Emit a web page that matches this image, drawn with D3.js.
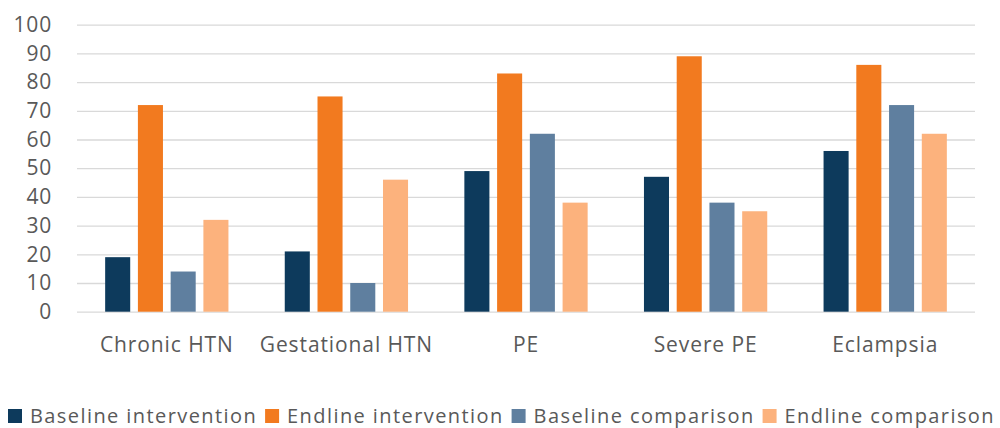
<!DOCTYPE html>
<html>
<head>
<meta charset="utf-8">
<script src="https://cdn.jsdelivr.net/npm/d3@7"></script>
<style>
  html, body { margin: 0; padding: 0; background: #fff; }
  svg { display: block; }
  text { font-family: "Open Sans", "Noto Sans", sans-serif; }
</style>
</head>
<body>
<svg id="chart" width="1000" height="428"></svg>
<script>
const categories = ["Chronic HTN", "Gestational HTN", "PE", "Severe PE", "Eclampsia"];
const seriesNames = ["Baseline intervention", "Endline intervention", "Baseline comparison", "Endline comparison"];
const baselineIntervention = [19, 21, 49, 47, 56];
const endlineIntervention = [72, 75, 83, 89, 86];
const baselineComparison = [14, 10, 62, 38, 72];
const endlineComparison = [32, 46, 38, 35, 62];
const yTicks = [0, 10, 20, 30, 40, 50, 60, 70, 80, 90, 100];
const colors = ["#0d3a5c", "#f27a1f", "#5f7f9f", "#fcb27d"];

const seriesValues = [baselineIntervention, endlineIntervention, baselineComparison, endlineComparison];

const svg = d3.select("#chart");
const plotLeft = 77, plotRight = 975, plotTop = 24.7, plotBottom = 311.7;
const FONT = '"Open Sans", "Noto Sans", sans-serif';

const y = d3.scaleLinear().domain([0, 100]).range([plotBottom, plotTop]);
const x0 = d3.scaleBand().domain(categories).range([plotLeft, plotRight]).padding(0);
const x1 = d3.scaleBand().domain(seriesNames).range([0, x0.bandwidth()])
  .paddingInner(0.235).paddingOuter(0.86);

// gridlines + y labels
const yAxis = d3.axisLeft(y).tickValues(yTicks).tickSize(-(plotRight - plotLeft)).tickPadding(25);
const gy = svg.append("g").attr("transform", `translate(${plotLeft},0)`).call(yAxis)
  .attr("font-family", FONT).attr("font-size", 21);
gy.select(".domain").remove();
gy.selectAll(".tick line").attr("stroke", "#d9d9d9").attr("stroke-width", 1.3);
gy.selectAll(".tick text").attr("fill", "#595959").attr("letter-spacing", 0.8);

// bars
const groups = svg.append("g").selectAll("g").data(categories).join("g")
  .attr("transform", d => `translate(${x0(d)},0)`);
groups.selectAll("rect")
  .data((c, i) => seriesNames.map((s, j) => ({ s, j, v: seriesValues[j][i] })))
  .join("rect")
  .attr("x", d => x1(d.s))
  .attr("width", x1.bandwidth())
  .attr("y", d => y(d.v))
  .attr("height", d => y(0) - y(d.v))
  .attr("fill", d => colors[d.j]);

// x axis labels
const xAxis = d3.axisBottom(x0).tickSize(0).tickPadding(0);
const gx = svg.append("g").attr("transform", `translate(0,${plotBottom})`).call(xAxis)
  .attr("font-family", FONT).attr("font-size", 21);
gx.select(".domain").remove();
gx.selectAll(".tick text").attr("fill", "#595959")
  .attr("dy", "0").attr("y", 40.6).attr("letter-spacing", 0.9);

// legend
const legend = svg.append("g").attr("transform", "translate(0,422.5)");
const items = legend.selectAll("g").data(seriesNames).join("g");
items.append("rect").attr("width", 14).attr("height", 14).attr("y", -13.5)
  .attr("fill", (d, i) => colors[i]);
const ltext = items.append("text").attr("x", 22)
  .attr("fill", "#595959").attr("font-size", 20)
  .text(d => d);
// fit legend letter-spacing so the legend spans the reference width
const legendLeft = 8, legendRight = 995, gap = 8;
let widths = [];
items.each(function() { widths.push(this.getBBox().width); });
const nChars = d3.sum(seriesNames, s => s.length);
const ls = ((legendRight - legendLeft) - d3.sum(widths) - gap * 3) / nChars;
ltext.attr("letter-spacing", ls);
widths = [];
items.each(function() { widths.push(this.getBBox().width); });
let cx = legendLeft;
items.attr("transform", (d, i) => {
  const t = `translate(${cx},0)`;
  cx += widths[i] + gap;
  return t;
});
</script>
</body>
</html>
